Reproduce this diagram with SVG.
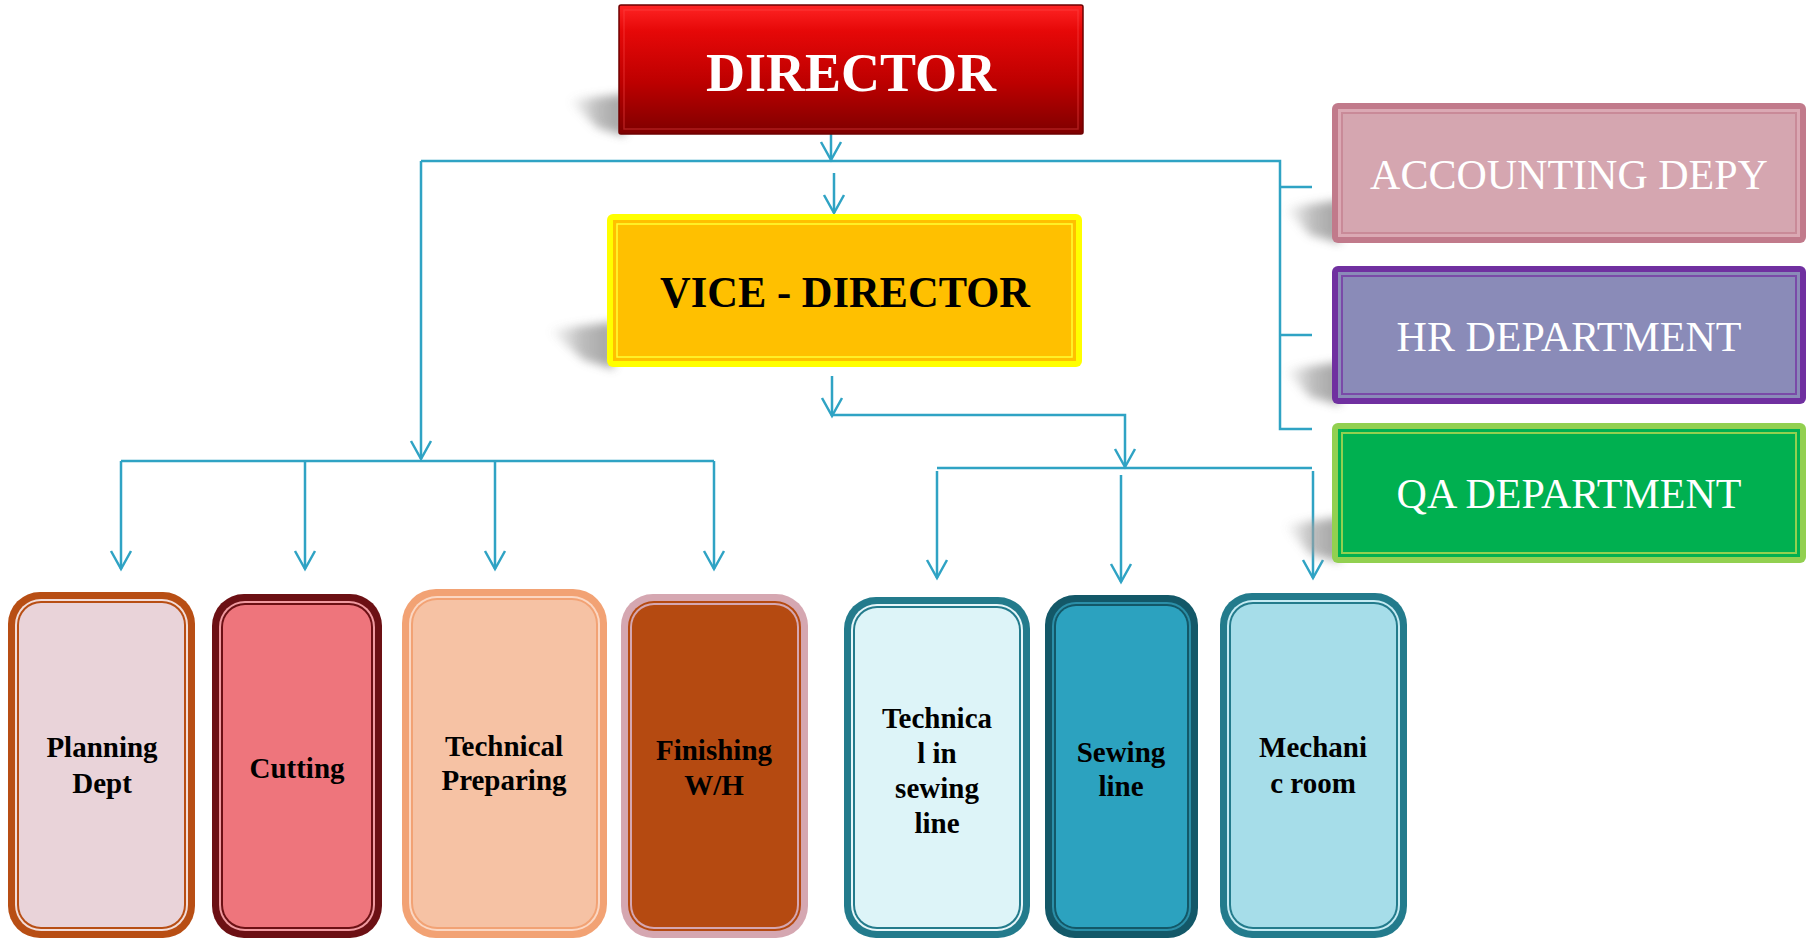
<svg xmlns="http://www.w3.org/2000/svg" width="1811" height="939" viewBox="0 0 1811 939">
<defs>
  <linearGradient id="redGrad" x1="0" y1="0" x2="0" y2="1">
    <stop offset="0" stop-color="#ff2424"/>
    <stop offset="0.2" stop-color="#e60808"/>
    <stop offset="0.6" stop-color="#bd0000"/>
    <stop offset="1" stop-color="#7e0000"/>
  </linearGradient>
  <linearGradient id="shadeGrad" x1="0" y1="0" x2="1" y2="0">
    <stop offset="0" stop-color="#b0b0b0" stop-opacity="0"/>
    <stop offset="0.5" stop-color="#a0a0a0" stop-opacity="0.8"/>
    <stop offset="1" stop-color="#909090" stop-opacity="1"/>
  </linearGradient>
  <filter id="blur" x="-50%" y="-50%" width="200%" height="200%">
    <feGaussianBlur stdDeviation="5"/>
  </filter>
  <marker id="arr" viewBox="-20 -12 24 24" refX="0" refY="0" markerWidth="24" markerHeight="24" markerUnits="userSpaceOnUse" orient="auto">
    <path d="M-18,-10 L0,0 L-18,10" fill="none" stroke="#2fa3c4" stroke-width="2.5"/>
  </marker>
</defs>
<style>
  .conn { fill: none; stroke: #2fa3c4; stroke-width: 2.5; }
  .shadow { fill: url(#shadeGrad); opacity: 0.85; filter: url(#blur); }
  .big { font-family: "Liberation Serif", "Times New Roman", serif; text-anchor: middle; }
  .side { font-family: "Liberation Serif", "Times New Roman", serif; font-size: 42px; fill: #ffffff; text-anchor: middle; }
  .lbl { font-family: "Liberation Serif", "Times New Roman", serif; font-size: 29px; font-weight: bold; fill: #000000; text-anchor: middle; }
</style>
<rect width="1811" height="939" fill="#ffffff"/>

<g id="connectors">
  <path class="conn" d="M831,134 V160" marker-end="url(#arr)"/>
  <path class="conn" d="M421,161 H1280 V429 H1312"/>
  <path class="conn" d="M1280,187 H1312 M1280,335 H1312"/>
  <path class="conn" d="M421,161 V459" marker-end="url(#arr)"/>
  <path class="conn" d="M834,173 V213" marker-end="url(#arr)"/>
  <path class="conn" d="M121,461 H714"/>
  <path class="conn" d="M121,461 V569" marker-end="url(#arr)"/>
  <path class="conn" d="M305,461 V569" marker-end="url(#arr)"/>
  <path class="conn" d="M495,461 V569" marker-end="url(#arr)"/>
  <path class="conn" d="M714,461 V569" marker-end="url(#arr)"/>
  <path class="conn" d="M832,376 V416" marker-end="url(#arr)"/>
  <path class="conn" d="M832,415 H1125 V467" marker-end="url(#arr)"/>
  <path class="conn" d="M937,468 H1312"/>
  <path class="conn" d="M937,471 V578" marker-end="url(#arr)"/>
  <path class="conn" d="M1121,475 V582" marker-end="url(#arr)"/>
  <path class="conn" d="M1313,471 V578" marker-end="url(#arr)"/>
</g>

<g id="director">
  <polygon class="shadow" points="568,100 625,94 625,136 598,128"/>
  <rect x="619" y="5" width="464" height="129" rx="2" fill="url(#redGrad)" stroke="#6e0000" stroke-width="1.5"/>
  <rect x="624" y="10" width="454" height="119" fill="none" stroke="#ff5050" stroke-opacity="0.35" stroke-width="1.5"/>
  <text class="big" x="851" y="91" font-size="54" font-weight="bold" fill="#ffffff">DIRECTOR</text>
</g>

<g id="vice-director">
  <polygon class="shadow" points="548,330 614,322 614,369 584,360"/>
  <rect x="607" y="214" width="475" height="153" rx="6" fill="#ffff00"/>
  <rect x="613" y="220" width="463" height="141" fill="#ffc000"/>
  <rect x="617" y="224" width="455" height="133" fill="none" stroke="#ffff33" stroke-width="1.5"/>
  <text class="big" x="845" y="307" font-size="45" font-weight="bold" fill="#000000" textLength="370" lengthAdjust="spacingAndGlyphs">VICE - DIRECTOR</text>
</g>

<g id="accounting">
  <polygon class="shadow" points="1284,208 1340,200 1340,243 1310,235"/>
  <rect x="1332" y="103" width="474" height="140" rx="6" fill="#c17a8b"/>
  <rect x="1338" y="109" width="462" height="128" fill="#dba9b4"/>
  <rect x="1341" y="112" width="456" height="122" fill="#c98a98"/>
  <rect x="1343" y="114" width="452" height="118" fill="#d5a6b0"/>
  <text class="side" x="1569" y="189">ACCOUNTING DEPY</text>
</g>

<g id="hr">
  <polygon class="shadow" points="1284,370 1340,362 1340,405 1310,397"/>
  <rect x="1332" y="266" width="474" height="138" rx="6" fill="#7030a0"/>
  <rect x="1338" y="272" width="462" height="126" fill="#8a8bb8"/>
  <rect x="1341" y="275" width="456" height="120" fill="#7a4aa8"/>
  <rect x="1343" y="277" width="452" height="116" fill="#8a8bb8"/>
  <text class="side" x="1569" y="351">HR DEPARTMENT</text>
</g>

<g id="qa">
  <polygon class="shadow" points="1284,525 1340,517 1340,562 1310,554"/>
  <rect x="1332" y="423" width="474" height="140" rx="6" fill="#92d050"/>
  <rect x="1338" y="429" width="462" height="128" fill="#00b050"/>
  <rect x="1341" y="432" width="456" height="122" fill="#92d050"/>
  <rect x="1343" y="434" width="452" height="118" fill="#00b050"/>
  <text class="side" x="1569" y="508">QA DEPARTMENT</text>
</g>

<g id="planning">
  <rect x="8" y="592" width="187" height="346" rx="32" fill="#b84e14"/>
  <rect x="15" y="599" width="173" height="332" rx="26" fill="#f3ddd9"/>
  <rect x="17" y="601" width="169" height="328" rx="24" fill="#b84e14"/>
  <rect x="19" y="603" width="165" height="324" rx="22" fill="#e9d3d9"/>
  <text class="lbl" x="102" y="757">Planning</text>
  <text class="lbl" x="102" y="793">Dept</text>
</g>

<g id="cutting">
  <rect x="212" y="594" width="170" height="344" rx="32" fill="#6c1014"/>
  <rect x="219" y="601" width="156" height="330" rx="26" fill="#f09aa0"/>
  <rect x="221" y="603" width="152" height="326" rx="24" fill="#6c1014"/>
  <rect x="223" y="605" width="148" height="322" rx="22" fill="#ee757c"/>
  <text class="lbl" x="297" y="778">Cutting</text>
</g>

<g id="technical-preparing">
  <rect x="402" y="589" width="205" height="349" rx="34" fill="#f2a274"/>
  <rect x="409" y="596" width="191" height="335" rx="28" fill="#fbd7c3"/>
  <rect x="411" y="598" width="187" height="331" rx="26" fill="#f2a274"/>
  <rect x="413" y="600" width="183" height="327" rx="24" fill="#f6c2a4"/>
  <text class="lbl" x="504" y="756">Technical</text>
  <text class="lbl" x="504" y="790">Preparing</text>
</g>

<g id="finishing">
  <rect x="621" y="594" width="187" height="344" rx="32" fill="#d5a7b1"/>
  <rect x="628" y="601" width="173" height="330" rx="26" fill="#b54a11"/>
  <rect x="630" y="603" width="169" height="326" rx="24" fill="#d5a7b1"/>
  <rect x="632" y="605" width="165" height="322" rx="22" fill="#b54a11"/>
  <text class="lbl" x="714" y="760">Finishing</text>
  <text class="lbl" x="714" y="795">W/H</text>
</g>

<g id="technical-sewing">
  <rect x="844" y="597" width="186" height="341" rx="32" fill="#237b8c"/>
  <rect x="851" y="604" width="172" height="327" rx="26" fill="#e8f7fa"/>
  <rect x="853" y="606" width="168" height="323" rx="24" fill="#237b8c"/>
  <rect x="855" y="608" width="164" height="319" rx="22" fill="#ddf4f8"/>
  <text class="lbl" x="937" y="728">Technica</text>
  <text class="lbl" x="937" y="763">l in</text>
  <text class="lbl" x="937" y="798">sewing</text>
  <text class="lbl" x="937" y="833">line</text>
</g>

<g id="sewing-line">
  <rect x="1045" y="595" width="153" height="343" rx="30" fill="#135868"/>
  <rect x="1052" y="602" width="139" height="329" rx="24" fill="#2b8fa8"/>
  <rect x="1054" y="604" width="135" height="325" rx="22" fill="#135868"/>
  <rect x="1056" y="606" width="131" height="321" rx="20" fill="#2ca2bf"/>
  <text class="lbl" x="1121" y="762">Sewing</text>
  <text class="lbl" x="1121" y="796">line</text>
</g>

<g id="mechanic-room">
  <rect x="1220" y="593" width="187" height="345" rx="32" fill="#237b8c"/>
  <rect x="1227" y="600" width="173" height="331" rx="26" fill="#c5ebf3"/>
  <rect x="1229" y="602" width="169" height="327" rx="24" fill="#237b8c"/>
  <rect x="1231" y="604" width="165" height="323" rx="22" fill="#a6dde9"/>
  <text class="lbl" x="1313" y="757">Mechani</text>
  <text class="lbl" x="1313" y="793">c room</text>
</g>
</svg>
